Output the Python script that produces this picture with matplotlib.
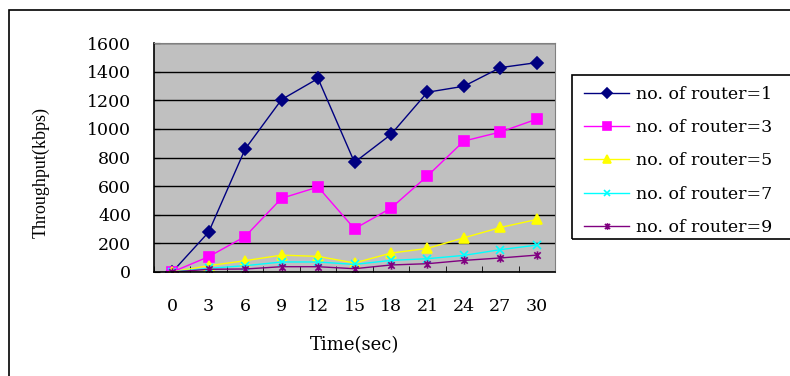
import numpy as np
import matplotlib.pyplot as plt
from matplotlib.path import Path
from matplotlib.patches import Rectangle

times = [0, 3, 6, 9, 12, 15, 18, 21, 24, 27, 30]
router1 = [0, 279, 859, 1205, 1352, 766, 961, 1256, 1298, 1428, 1463]
router3 = [0, 107, 248, 515, 594, 302, 446, 671, 915, 978, 1068]
router5 = [0, 44, 79, 118, 109, 63, 132, 165, 239, 311, 367]
router7 = [0, 26, 44, 70, 70, 53, 81, 93, 116, 156, 188]
router9 = [0, 19, 21, 37, 37, 23, 49, 58, 81, 98, 118]
labels = ['no. of router=1', 'no. of router=3', 'no. of router=5',
          'no. of router=7', 'no. of router=9']

# asterisk marker: an x with a vertical stroke through it
star = Path([(-1, -1), (1, 1), (-1, 1), (1, -1), (0, -1.3), (0, 1.3)],
            [Path.MOVETO, Path.LINETO, Path.MOVETO, Path.LINETO, Path.MOVETO, Path.LINETO])

plt.rcParams['font.family'] = ['DejaVu Serif']

fig = plt.figure(figsize=(7.9, 3.76), dpi=100)
ax = fig.add_axes([154 / 790, 1 - 272 / 376, 401 / 790, 229 / 376])
ax.set_facecolor('#c0c0c0')

x = np.arange(len(times))
styles = [
    (router1, '#000080', 'D', 6),
    (router3, '#ff00ff', 's', 7),
    (router5, '#ffff00', '^', 7),
    (router7, '#00ffff', 'x', 6),
    (router9, '#800080', star, 6),
]
for (vals, col, mk, ms), lab in zip(styles, labels):
    ax.plot(x, vals, color=col, marker=mk, markersize=ms, lw=1.0,
            markeredgewidth=1.2, label=lab)

ax.set_xlim(-0.5, len(times) - 0.5)
ax.set_ylim(0, 1600)
ax.set_yticks(np.arange(0, 1601, 200))
ax.set_xticks(x)
ax.set_xticklabels([str(t) for t in times])
ax.set_xticks(np.arange(-0.5, len(times)), minor=True)
ax.tick_params(axis='x', which='major', length=0, pad=19, labelsize=12.5)
ax.tick_params(axis='x', which='minor', length=4, direction='in')
ax.tick_params(axis='y', length=4, direction='in', pad=16.5, labelsize=12.5)
ax.grid(axis='y', color='black', lw=1)
ax.set_axisbelow(True)
for side in ['top', 'right']:
    ax.spines[side].set_color('#808080')
for side in ['left', 'bottom']:
    ax.spines[side].set_color('black')
    ax.spines[side].set_linewidth(1.2)

ax.set_xlabel('Time(sec)', fontsize=13)
ax.xaxis.set_label_coords(0.5, -(336 - 272) / 229)
ax.set_ylabel('Throughput(kbps)', fontsize=13, family='Liberation Serif')
ax.yaxis.set_label_coords(-(154 - 50) / 401, (272 - 172) / 229)

fig.legend(loc='upper left', bbox_to_anchor=(572 / 790, 1 - 74 / 376),
           fontsize=12.5, frameon=False, borderpad=0.7, labelspacing=0.93,
           handlelength=2.6, handletextpad=0.4, borderaxespad=0,
           markerscale=0.8)

# legend box runs off the right edge of the figure
fig.patches.append(Rectangle((572 / 790, 1 - 239 / 376), 0.5, 164 / 376,
                             transform=fig.transFigure, fill=False,
                             edgecolor='black', lw=1.2))
# outer frame
fig.patches.append(Rectangle((9 / 790, -0.1), 1.0, 1 - 10 / 376 + 0.1,
                             transform=fig.transFigure, fill=False,
                             edgecolor='black', lw=1.2))

fig.savefig('out.png', dpi=100)
